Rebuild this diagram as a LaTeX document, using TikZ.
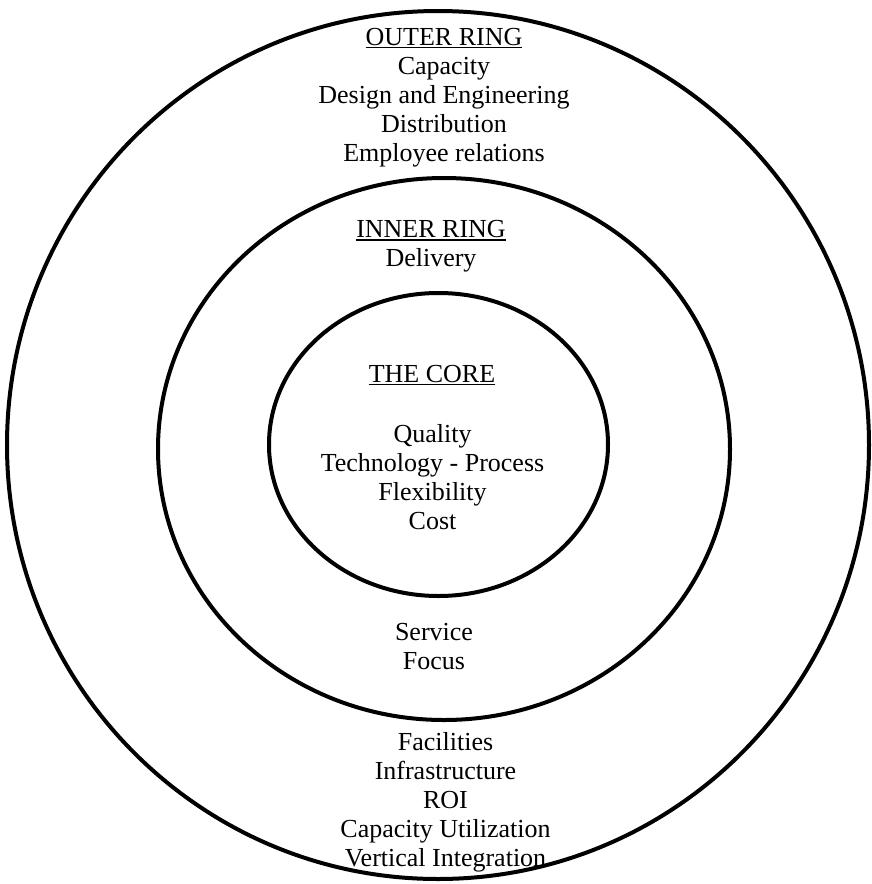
\documentclass[tikz,border=0pt]{standalone}
\usepackage{fontspec}
\setmainfont{Liberation Serif}
\usepackage{tikz}

\newcommand{\ringhead}[1]{\setbox0\hbox{#1}\leavevmode\rlap{\rule[-3pt]{\wd0}{1.6pt}}\box0}

\begin{document}
\begin{tikzpicture}[
      x=1pt,y=1pt,
      ring/.style={
         draw=black,
         line width=4pt},
      ringtext/.style={
         align=center,
         inner sep=0pt,
         font=\fontsize{26}{29}\selectfont}
      ]
      \useasboundingbox (0,0) rectangle (872,-884);

      % the three rings
      \draw[ring] (438,-445) ellipse [x radius=431, y radius=434];
      \draw[ring] (444,-449) ellipse [x radius=286, y radius=271];
      \draw[ring] (438.5,-444.5) ellipse [x radius=169.5, y radius=151.5];

      \node[ringtext] (outertop) at (444,-97.5)
         {\ringhead{OUTER RING}\\Capacity\\Design and Engineering\\Distribution\\Employee relations};
      \node[ringtext] (innertop) at (431,-246.5)
         {\ringhead{INNER RING}\\Delivery};
      \node[ringtext] (corehead) at (432,-375) {\ringhead{THE CORE}};
      \node[ringtext] (coreitems) at (432.5,-477.5)
         {Quality\\Technology - Process\\Flexibility\\Cost};
      \node[ringtext] (innerlow) at (434,-646.5) {Service\\Focus};
      \node[ringtext] (outerlow) at (445.5,-802.5)
         {Facilities\\Infrastructure\\ROI\\Capacity Utilization\\Vertical Integration};

\end{tikzpicture}
\end{document}
